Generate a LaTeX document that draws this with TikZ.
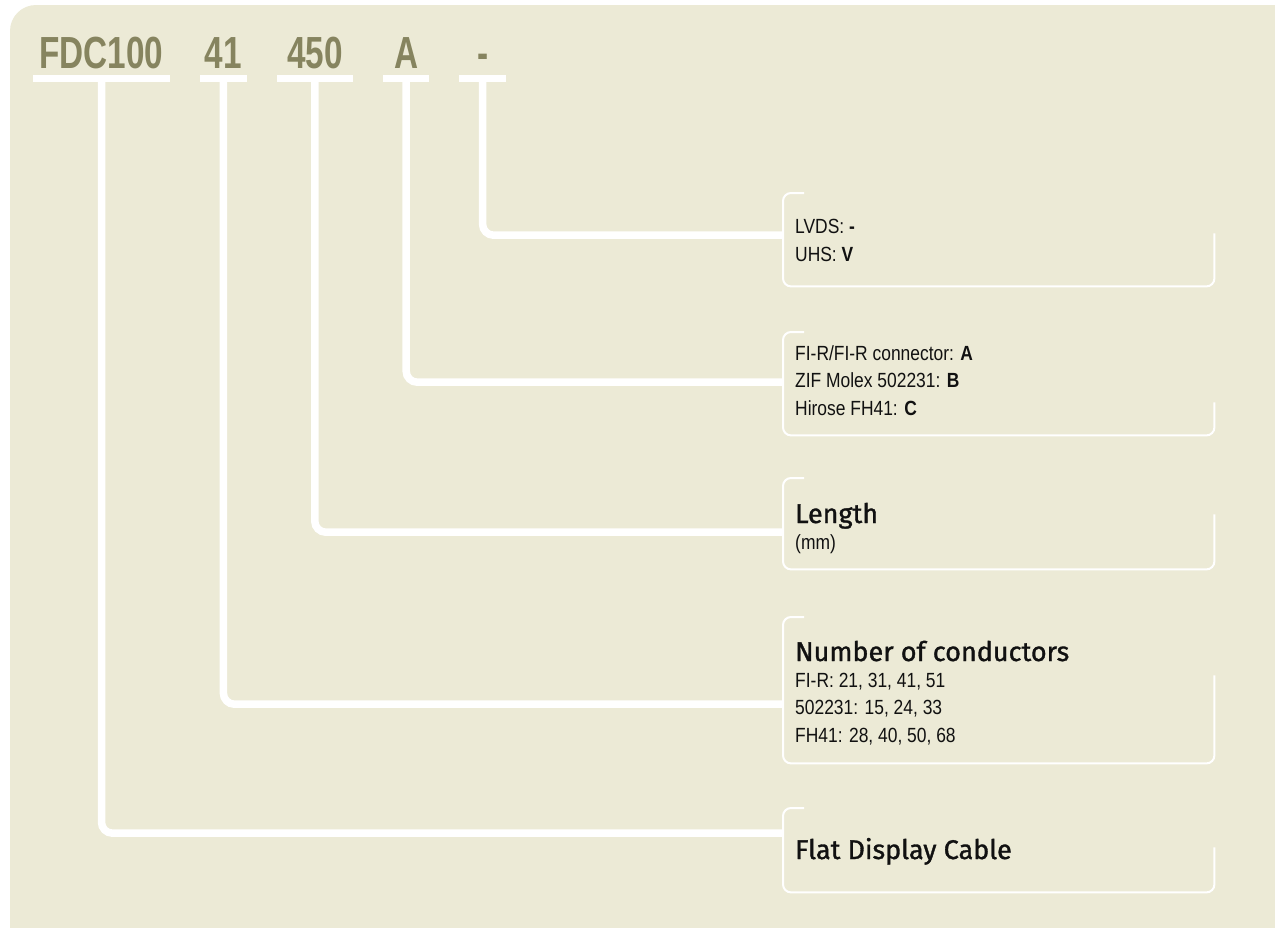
\documentclass[tikz,border=0pt]{standalone}
\usepackage{fontspec}
\setmainfont{Liberation Sans}
\newfontfamily\codefont{Liberation Sans}[FakeStretch=0.74]
\newfontfamily\bodyfont{Liberation Sans}[FakeStretch=0.85]
\newfontfamily\headfont{Fira Sans}[FakeBold=1.2]
\usepackage{tikz}
\usetikzlibrary{positioning}

\definecolor{pagebg}{HTML}{ECEAD6}
\definecolor{codeolive}{HTML}{86845F}
\definecolor{ink}{HTML}{111111}

% open frame: short top tab, left side, bottom, short right side
\newcommand\openbox[2]{\draw[boxline] ([xshift=21pt]#1.north west) -- (#1.north west) |- (#1.south east) -- ++(0,-#2);}

\begin{document}
\begin{tikzpicture}[x=1pt, y=-1pt, node distance=30pt]
  \tikzset{code/.style={inner sep=0pt, text height=32pt, text depth=0pt, align=center, font=\codefont\bfseries\fontsize{45}{45}\selectfont, text=codeolive},
    bar/.style={draw=white, line width=7pt},
    link/.style={draw=white, line width=7.5pt, rounded corners=11pt},
    infobox/.style={rectangle, inner sep=0pt, minimum width=431pt, anchor=north west},
    boxline/.style={draw=white, line width=2pt, rounded corners=8pt},
    bodytext/.style={anchor=base west, inner sep=0pt, align=left, text=ink, font=\bodyfont\fontsize{20.5}{27.5}\selectfont},
    headtext/.style={anchor=base west, inner sep=0pt, text=ink, font=\headfont\fontsize{27}{30}\selectfont}}
  \useasboundingbox (0,0) rectangle (1275,927);
  \clip (0,0) rectangle (1275,927);
  \fill[white] (0,0) rectangle (1275,927);
  \fill[pagebg, rounded corners=26pt] (10,5) rectangle (1330,990);

  % part number
  \node[code, minimum width=137pt, anchor=base] (fdc) at (101.5,68) {FDC100};
  \node[code, minimum width=46pt, right=of fdc] (nfo) {41};
  \node[code, minimum width=76pt, right=of nfo] (nfz) {450};
  \node[code, minimum width=46pt, right=of nfz] (nA) {A};
  \node[code, minimum width=46pt, right=of nA] (ndash) {-};
  \foreach \c in {fdc,nfo,nfz,nA,ndash}
    \draw[bar] ([yshift=-10.5pt]\c.base west) -- ([yshift=-10.5pt]\c.base east);

  % explanation boxes
  \node[infobox, minimum height=93pt] (bxdash) at (783,193) {};
  \node[infobox, minimum height=103pt] (bxA) at (783,332) {};
  \node[infobox, minimum height=91pt] (bxlen) at (783,478) {};
  \node[infobox, minimum height=146pt] (bxcond) at (783,617) {};
  \node[infobox, minimum height=84pt] (bxcable) at (783,808) {};
  \openbox{bxdash}{53}
  \openbox{bxA}{33}
  \openbox{bxlen}{55}
  \openbox{bxcond}{88}
  \openbox{bxcable}{45}

  % base of a multi-line node is its last line
  \node[bodytext] (tdash) at (795,261) {LVDS: \textbf{-}\\UHS: \textbf{V}};
  \node[bodytext] (tA) at (795,415) {FI-R/FI-R connector: \textbf{A}\\ZIF Molex 502231: \textbf{B}\\Hirose FH41: \textbf{C}};
  \node[headtext] (hlen) at (795,523) {Length};
  \node[bodytext] (tlen) at (795,549) {(mm)};
  \node[headtext] (hcond) at (795,661) {Number of conductors};
  \node[bodytext] (tcond) at (795,742) {FI-R: 21, 31, 41, 51\\502231: 15, 24, 33\\FH41: 28, 40, 50, 68};
  \node[headtext] (hcable) at (795,859) {Flat Display Cable};

  % connectors
  \draw[link] ([yshift=-10pt]ndash.base) |- ([yshift=4.5pt]bxdash.west);
  \draw[link] ([yshift=-10pt]nA.base) |- ([yshift=1.5pt]bxA.west);
  \draw[link] ([yshift=-10pt]nfz.base) |- ([yshift=-8.5pt]bxlen.west);
  \draw[link] ([yshift=-10pt]nfo.base) |- ([yshift=-14pt]bxcond.west);
  \draw[link] ([yshift=-10pt]fdc.base) |- ([yshift=17pt]bxcable.west);
\end{tikzpicture}
\end{document}
